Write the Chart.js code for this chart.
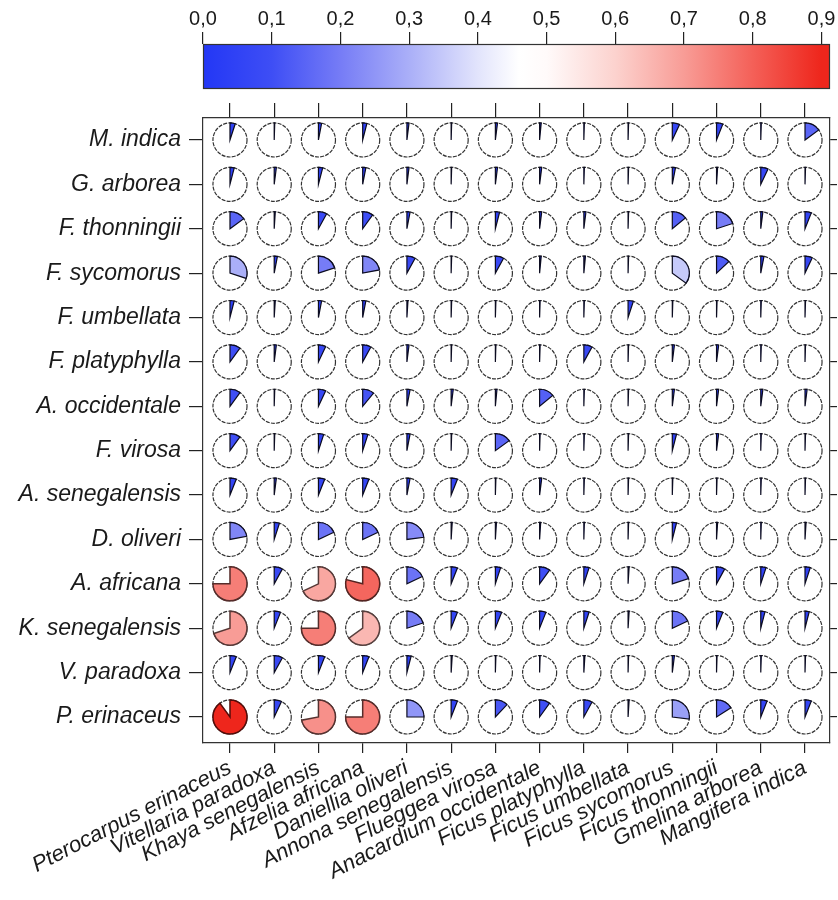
<!DOCTYPE html>
<html>
<head>
<meta charset="utf-8">
<script src="https://cdn.jsdelivr.net/npm/chart.js@4.4.1/dist/chart.umd.min.js"></script>
<style>
  html, body { margin: 0; padding: 0; background: #ffffff; }
  canvas { display: block; }
</style>
</head>
<body>
<canvas id="chart" width="838" height="900"></canvas>
<script>
// Host species (rows, top to bottom)
const rowLabels = [
  'M. indica', 'G. arborea', 'F. thonningii', 'F. sycomorus', 'F. umbellata',
  'F. platyphylla', 'A. occidentale', 'F. virosa', 'A. senegalensis', 'D. oliveri',
  'A. africana', 'K. senegalensis', 'V. paradoxa', 'P. erinaceus'
];

// Compared species (columns, left to right)
const colLabels = [
  'Pterocarpus erinaceus', 'Vitellaria paradoxa', 'Khaya senegalensis', 'Afzelia africana',
  'Daniellia oliveri', 'Annona senegalensis', 'Flueggea virosa', 'Anacardium occidentale',
  'Ficus platyphylla', 'Ficus umbellata', 'Ficus sycomorus', 'Ficus thonningii',
  'Gmelina arborea', 'Mangifera indica'
];

// Colour key ticks
const keyTicks = [0, 0.1, 0.2, 0.3, 0.4, 0.5, 0.6, 0.7, 0.8, 0.9];

// One row of shares per host species
const mIndica        = [0.05, 0.005, 0.03, 0.04, 0.02, 0.005, 0.02, 0.015, 0.005, 0.005, 0.07, 0.06, 0.005, 0.15];
const gArborea       = [0.04, 0.02, 0.04, 0.03, 0.02, 0.005, 0.02, 0.02, 0.005, 0.005, 0.03, 0.01, 0.07, 0.005];
const fThonningii    = [0.15, 0.01, 0.08, 0.10, 0.03, 0.005, 0.04, 0.02, 0.02, 0.005, 0.14, 0.20, 0.02, 0.06];
const fSycomorus     = [0.30, 0.03, 0.20, 0.22, 0.08, 0.005, 0.08, 0.015, 0.015, 0.005, 0.35, 0.13, 0.03, 0.07];
const fUmbellata     = [0.04, 0.01, 0.03, 0.03, 0.01, 0.005, 0.005, 0.005, 0.005, 0.05, 0.005, 0.005, 0.005, 0.005];
const fPlatyphylla   = [0.10, 0.02, 0.07, 0.08, 0.02, 0.005, 0.005, 0.005, 0.08, 0.005, 0.02, 0.02, 0.005, 0.005];
const aOccidentale   = [0.10, 0.005, 0.07, 0.11, 0.03, 0.02, 0.015, 0.14, 0.005, 0.005, 0.02, 0.02, 0.02, 0.02];
const fVirosa        = [0.10, 0.005, 0.05, 0.05, 0.03, 0.005, 0.15, 0.005, 0.005, 0.005, 0.04, 0.02, 0.005, 0.005];
const aSenegalensis  = [0.06, 0.02, 0.06, 0.06, 0.03, 0.06, 0.005, 0.02, 0.005, 0.005, 0.005, 0.005, 0.005, 0.005];
const dOliveri       = [0.22, 0.05, 0.18, 0.18, 0.23, 0.01, 0.01, 0.01, 0.005, 0.005, 0.04, 0.01, 0.005, 0.01];
const aAfricana      = [0.75, 0.08, 0.68, 0.79, 0.18, 0.06, 0.05, 0.10, 0.05, 0.01, 0.20, 0.08, 0.05, 0.05];
const kSenegalensis  = [0.70, 0.06, 0.75, 0.65, 0.20, 0.06, 0.06, 0.06, 0.05, 0.01, 0.18, 0.06, 0.04, 0.04];
const vParadoxa      = [0.06, 0.08, 0.06, 0.06, 0.04, 0.01, 0.005, 0.005, 0.01, 0.005, 0.02, 0.005, 0.005, 0.005];
const pErinaceus     = [0.90, 0.07, 0.72, 0.75, 0.25, 0.06, 0.12, 0.10, 0.08, 0.01, 0.27, 0.16, 0.06, 0.06];

const matrix = [
  mIndica, gArborea, fThonningii, fSycomorus, fUmbellata, fPlatyphylla, aOccidentale,
  fVirosa, aSenegalensis, dOliveri, aAfricana, kSenegalensis, vParadoxa, pErinaceus
];

// Blue - white - red ramp used by both the key and the pies
const rampStops = [
  [0.00, [35, 55, 245]],
  [0.10, [62, 78, 245]],
  [0.20, [118, 124, 246]],
  [0.30, [170, 175, 248]],
  [0.40, [226, 228, 252]],
  [0.46, [255, 255, 255]],
  [0.50, [255, 250, 250]],
  [0.60, [252, 210, 206]],
  [0.70, [248, 156, 150]],
  [0.80, [244, 96, 88]],
  [0.90, [238, 38, 28]]
];

function rampColor(v) {
  if (v <= rampStops[0][0]) return 'rgb(' + rampStops[0][1].join(',') + ')';
  for (let i = 1; i < rampStops.length; i++) {
    const [v1, c1] = rampStops[i];
    const [v0, c0] = rampStops[i - 1];
    if (v <= v1) {
      const t = (v - v0) / (v1 - v0);
      const c = c0.map((a, k) => Math.round(a + (c1[k] - a) * t));
      return 'rgb(' + c.join(',') + ')';
    }
  }
  return 'rgb(' + rampStops[rampStops.length - 1][1].join(',') + ')';
}

function darker(v, f) {
  const m = rampColor(v).match(/\d+/g).map(Number);
  return 'rgb(' + m.map(a => Math.round(a * f)).join(',') + ')';
}

const points = [];
matrix.forEach((row, r) => row.forEach((v, c) => points.push({ x: c, y: r, v: v })));

const FONT = '"Liberation Sans", Arial, Helvetica, sans-serif';
Chart.defaults.font.family = FONT;
Chart.defaults.color = '#1a1a1a';

// Pies drawn at the positions the scatter dataset gets from the scales
const pieGlyphs = {
  id: 'pieGlyphs',
  afterDatasetsDraw(chart) {
    const ctx = chart.ctx;
    const xs = chart.scales.x;
    const radius = 0.385 * Math.abs(xs.getPixelForValue(1) - xs.getPixelForValue(0));
    const meta = chart.getDatasetMeta(0);
    ctx.save();
    meta.data.forEach((el, i) => {
      const v = points[i].v;
      const cx = el.x, cy = el.y;
      // outline of the full circle
      ctx.beginPath();
      ctx.setLineDash([4, 1.2]);
      ctx.arc(cx, cy, radius, 0, Math.PI * 2);
      ctx.lineWidth = 1.2;
      ctx.strokeStyle = '#333';
      ctx.stroke();
      ctx.setLineDash([]);
      // share slice, clockwise from twelve o'clock
      const start = -Math.PI / 2;
      ctx.beginPath();
      ctx.moveTo(cx, cy);
      ctx.arc(cx, cy, radius, start, start + Math.PI * 2 * v);
      ctx.closePath();
      ctx.fillStyle = rampColor(v);
      ctx.fill();
      ctx.lineWidth = v > 0.5 ? 1.5 : 1.2;
      ctx.lineJoin = 'miter';
      ctx.strokeStyle = v > 0.5 ? darker(v, 0.35) : '#0c0c20';
      ctx.stroke();
    });
    ctx.restore();
  }
};

// Gradient bar under the key scale
const colourKey = {
  id: 'colourKey',
  afterDraw(chart) {
    const s = chart.scales.key;
    const ctx = chart.ctx;
    const top = s.bottom, h = 44;
    const g = ctx.createLinearGradient(s.left, 0, s.right, 0);
    rampStops.forEach(([v, c]) => {
      const p = (s.getPixelForValue(v) - s.left) / (s.right - s.left);
      g.addColorStop(Math.min(1, Math.max(0, p)), 'rgb(' + c.join(',') + ')');
    });
    ctx.save();
    ctx.fillStyle = g;
    ctx.fillRect(s.left, top, s.right - s.left, h);
    ctx.lineWidth = 1.2;
    ctx.strokeStyle = '#333';
    ctx.strokeRect(s.left + 0.5, top + 0.5, s.right - s.left - 1, h);
    ctx.restore();
  }
};

const colTicks = s => { s.ticks = colLabels.map((_, i) => ({ value: i })); };
const rowTicks = s => { s.ticks = rowLabels.map((_, i) => ({ value: i })); };
const axisBorder = { display: true, color: '#333', width: 1.2 };

new Chart(document.getElementById('chart'), {
  type: 'scatter',
  data: {
    datasets: [{
      data: points,
      pointRadius: 0,
      pointHoverRadius: 0,
      xAxisID: 'x',
      yAxisID: 'y'
    }]
  },
  options: {
    responsive: false,
    animation: false,
    devicePixelRatio: 1,
    events: [],
    layout: { padding: 0 },
    plugins: { legend: { display: false }, tooltip: { enabled: false } },
    scales: {
      x: {
        type: 'linear', position: 'bottom', min: -0.61, max: 13.565,
        afterBuildTicks: colTicks,
        afterFit: s => { s.height = 157; },
        ticks: {
          callback: v => colLabels[v],
          autoSkip: false, minRotation: 27, maxRotation: 27, padding: 2,
          font: { size: 22, style: 'italic' }, color: '#1a1a1a'
        },
        grid: { drawOnChartArea: false, drawTicks: true, tickLength: 10, color: '#222', lineWidth: 1.2 },
        border: axisBorder
      },
      xTop: {
        type: 'linear', position: 'top', min: -0.61, max: 13.565,
        afterBuildTicks: colTicks,
        afterFit: s => { s.height = 74; },
        ticks: { display: false },
        grid: { drawOnChartArea: false, drawTicks: true, tickLength: 15, color: '#222', lineWidth: 1.2 },
        border: axisBorder
      },
      key: {
        type: 'linear', position: 'top', weight: 10, min: 0, max: 0.9125,
        afterBuildTicks: s => { s.ticks = keyTicks.map(v => ({ value: v })); },
        afterFit: s => { s.height = 44; },
        ticks: {
          callback: v => v.toFixed(1).replace('.', ','),
          padding: 1, font: { size: 20 }, color: '#1a1a1a'
        },
        grid: { drawOnChartArea: false, drawTicks: true, tickLength: 12, color: '#222', lineWidth: 1.2 },
        border: { display: false }
      },
      y: {
        type: 'linear', position: 'left', reverse: true, min: -0.495, max: 13.586,
        afterBuildTicks: rowTicks,
        afterFit: s => { s.width = 203; },
        ticks: {
          callback: v => rowLabels[v],
          autoSkip: false, padding: 8,
          font: { size: 23, style: 'italic' }, color: '#1a1a1a'
        },
        grid: { drawOnChartArea: false, drawTicks: true, tickLength: 14, color: '#222', lineWidth: 1.2 },
        border: axisBorder
      },
      yRight: {
        type: 'linear', position: 'right', reverse: true, min: -0.495, max: 13.586,
        afterBuildTicks: rowTicks,
        afterFit: s => { s.width = 8; },
        ticks: { display: false },
        grid: { drawOnChartArea: false, drawTicks: true, tickLength: 7, color: '#222', lineWidth: 1.2 },
        border: axisBorder
      }
    }
  },
  plugins: [pieGlyphs, colourKey]
});
</script>
</body>
</html>
